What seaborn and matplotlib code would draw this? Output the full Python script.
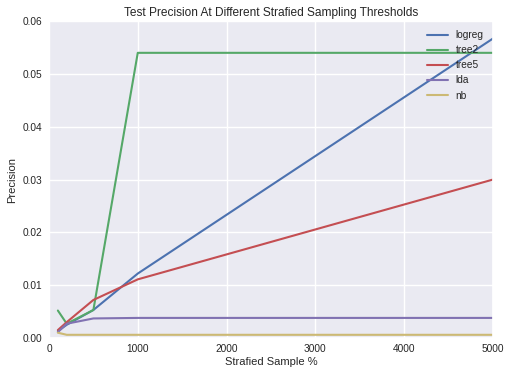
import matplotlib
matplotlib.use("Agg")
import matplotlib.pyplot as plt
import matplotlib.font_manager as fm
from matplotlib.font_manager import FontProperties
import seaborn as sns
import pandas as pd
import os

samples = [100, 200, 500, 1000, 5000]
logreg = [0.0013, 0.0025, 0.0053, 0.0122, 0.0567]
tree2 = [0.0052, 0.0027, 0.0053, 0.0540, 0.0540]
tree5 = [0.0015, 0.0030, 0.0072, 0.0111, 0.0300]
lda = [0.0011, 0.0027, 0.0037, 0.0038, 0.0038]
nb = [0.0010, 0.0006, 0.0006, 0.0006, 0.0006]

series = {"logreg": logreg, "tree2": tree2, "tree5": tree5, "lda": lda, "nb": nb}
rows = []
for name, vals in series.items():
    for x, y in zip(samples, vals):
        rows.append({"sample": x, "precision": y, "model": name})
df = pd.DataFrame(rows)

sns.set_theme(style="darkgrid")

font_path = None
for f in fm.fontManager.ttflist:
    if os.path.basename(f.fname) == "LiberationSans-Regular.ttf":
        font_path = f.fname
        break

def fp(size):
    if font_path:
        return FontProperties(fname=font_path, size=size)
    return FontProperties(family="DejaVu Sans", size=size)

palette = ["#4C72B0", "#55A868", "#C44E52", "#8172B2", "#CCB974"]

fig = plt.figure(figsize=(5.05, 3.71), dpi=100)
ax = fig.add_axes([0.097, 0.089, 0.879, 0.854])
sns.lineplot(data=df, x="sample", y="precision", hue="model", palette=palette,
             linewidth=1.5, ax=ax)
ax.set_xlim(0, 5000)
ax.set_ylim(0, 0.06)
ax.set_xticks([0, 1000, 2000, 3000, 4000, 5000])
ax.set_xticklabels(["0", "1000", "2000", "3000", "4000", "5000"])
ax.set_yticks([0, 0.01, 0.02, 0.03, 0.04, 0.05, 0.06])
ax.set_yticklabels(["0.00", "0.01", "0.02", "0.03", "0.04", "0.05", "0.06"])
ax.tick_params(axis="y", length=0, pad=5)
ax.tick_params(axis="x", length=0, pad=4.5)
for lbl in ax.get_xticklabels() + ax.get_yticklabels():
    lbl.set_fontproperties(fp(7.3))
ax.set_xlabel("Strafied Sample %", fontproperties=fp(8), labelpad=2)
ax.set_ylabel("Precision", fontproperties=fp(8), labelpad=4)
ax.set_title("Test Precision At Different Strafied Sampling Thresholds",
             fontproperties=fp(8.6), pad=4)
leg = ax.legend(loc="upper right", frameon=False, prop=fp(7.3), title=None)
fig.savefig("out.png", dpi=100)
